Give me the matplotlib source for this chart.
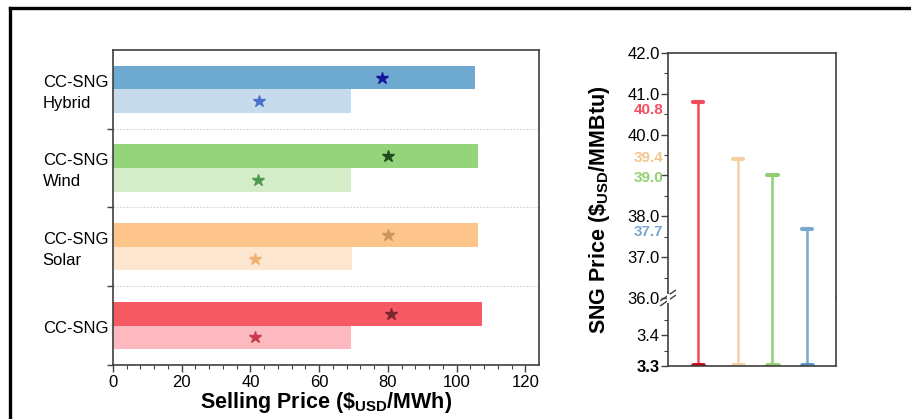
import numpy as np
import matplotlib
matplotlib.use("Agg")
import matplotlib.pyplot as plt
from matplotlib.lines import Line2D

plt.rcParams['font.family'] = ['Liberation Sans', 'DejaVu Sans']
plt.rcParams['mathtext.fontset'] = 'custom'
plt.rcParams['mathtext.rm'] = 'Liberation Sans'
plt.rcParams['mathtext.bf'] = 'Liberation Sans:bold'

# selling price per configuration (bottom to top)
configs = ['CC-SNG', 'CC-SNG\nSolar', 'CC-SNG\nWind', 'CC-SNG\nHybrid']
price_high = [107.5, 106.3, 106.3, 105.4]
price_low = [69.3, 69.6, 69.2, 69.2]
star_high = [80.8, 80.0, 80.0, 78.3]
star_low = [41.4, 41.4, 42.2, 42.6]

# SNG price range per configuration (left to right)
sng_names = ['CC-SNG', 'CC-SNG Solar', 'CC-SNG Wind', 'CC-SNG Hybrid']
sng_pos = [1.0, 2.15, 3.15, 4.15]
sng_top = [40.8, 39.4, 39.0, 37.7]
sng_bottom = 3.3

col_high = ['#f65a62', '#fdc58c', '#96d47b', '#6eaad0']
col_low = ['#fcb9bf', '#fde6d0', '#d4ecc8', '#c6dcec']
col_star_high = ['#7a2630', '#c8955a', '#1d4d1d', '#16169c']
col_star_low = ['#c93a4a', '#f0b070', '#4f9a4f', '#4a6fcc']
col_sng = ['#f04a5a', '#f7cfa6', '#8fcf72', '#78aacc']
col_sng_base = ['#c8001c', '#f7cfa6', '#8fcf72', '#5590c0']
col_sng_text = ['#f25060', '#f5c58e', '#90d070', '#7aa8d0']

spine_col = '#404040'

fig = plt.figure(figsize=(9.12, 4.19), dpi=100)

# outer frame
fig.add_artist(Line2D([0.011, 0.011], [0.0, 0.981], color='black', lw=2.4,
                      transform=fig.transFigure))
fig.add_artist(Line2D([0.011, 1.0], [0.981, 0.981], color='black', lw=2.4,
                      transform=fig.transFigure))

# ---- left panel: horizontal bars ----
ax = fig.add_axes([0.1239, 0.1289, 0.4671, 0.7518])
y = np.arange(len(configs))
h = 0.3
ax.barh(y + h / 2, price_high, height=h, color=col_high, edgecolor='none')
ax.barh(y - h / 2, price_low, height=h, color=col_low, edgecolor='none')
for i in range(len(configs)):
    ax.plot(star_high[i], y[i] + h / 2, marker='*', ms=9, color=col_star_high[i], ls='none')
    ax.plot(star_low[i], y[i] - h / 2, marker='*', ms=9, color=col_star_low[i], ls='none')
for yy in [0.5, 1.5, 2.5]:
    ax.axhline(yy, color='#d0d0d0', lw=0.8, ls=(0, (1.5, 1.5)), zorder=0)

ax.set_xlim(0, 124)
ax.set_ylim(-0.5, 3.5)
ax.set_xticks(np.arange(0, 121, 20))
ax.set_xticks(np.arange(0, 124, 4), minor=True)
ax.set_yticks([-0.5, 0.5, 1.5, 2.5])
ax.set_yticklabels([])
ax.tick_params(axis='x', which='major', length=5, width=1, labelsize=12, color=spine_col, pad=2)
ax.tick_params(axis='x', which='minor', length=3, width=0.8, color=spine_col)
ax.tick_params(axis='y', length=4, width=1, color=spine_col)
for s in ax.spines.values():
    s.set_color(spine_col)
    s.set_linewidth(1.2)
for i, lab in enumerate(configs):
    ax.text(-0.165, y[i] - 0.04, lab, transform=ax.get_yaxis_transform(), ha='left',
            va='center', fontsize=12, linespacing=1.5)
ax.set_xlabel(r'Selling Price (\$$_{\mathbf{USD}}$/MWh)', fontsize=15.5,
              fontweight='bold', labelpad=0)

# ---- right panel: broken-axis range plot ----
ax_top = fig.add_axes([0.7325, 0.2888, 0.1842, 0.5847])
ax_bot = fig.add_axes([0.7325, 0.1265, 0.1842, 0.1623], sharex=ax_top)

for a in (ax_top, ax_bot):
    for i in range(len(sng_pos)):
        a.plot([sng_pos[i], sng_pos[i]], [sng_bottom, sng_top[i]],
               color=col_sng[i], lw=1.8, solid_capstyle='butt')
    for s in a.spines.values():
        s.set_color(spine_col)
        s.set_linewidth(1.2)
    a.tick_params(axis='x', bottom=False, labelbottom=False)
    a.tick_params(axis='y', which='major', length=5, width=1, color=spine_col, labelsize=12, pad=1)
    a.tick_params(axis='y', which='minor', length=3, width=0.8, color=spine_col)

cap_w = 0.15
for i in range(len(sng_pos)):
    ax_top.plot([sng_pos[i] - cap_w, sng_pos[i] + cap_w], [sng_top[i]] * 2,
                color=col_sng[i], lw=3, solid_capstyle='round')
    ax_bot.plot([sng_pos[i] - cap_w, sng_pos[i] + cap_w], [sng_bottom + 0.004] * 2,
                color=col_sng_base[i], lw=3.5, solid_capstyle='round')

ax_top.set_xlim(0.13, 4.99)
ax_top.set_ylim(36, 42)
top_ticks = np.arange(36, 42.1, 1)
ax_top.set_yticks(top_ticks)
ax_top.set_yticks(np.arange(36.5, 42, 1), minor=True)
# the 39.0 tick label sits under the coloured 39.0 value label
ax_top.set_yticklabels(['' if v == 39 else f'{v:.1f}' for v in top_ticks])
ax_top.spines['bottom'].set_visible(False)

ax_bot.set_ylim(3.3, 3.52)
ax_bot.set_yticks([3.3, 3.4])
ax_bot.set_yticks([3.35, 3.45], minor=True)
ax_bot.set_yticklabels(['3.3', '3.4'])
ax_bot.get_yticklabels()[0].set_fontweight('bold')
ax_bot.spines['top'].set_visible(False)

# break marks on the left spine
bx, by = 0.7325, 0.2888
for dy in (-0.006, 0.006):
    fig.add_artist(Line2D([bx - 0.008, bx + 0.008], [by + dy - 0.012, by + dy + 0.012],
                          color=spine_col, lw=1.0, transform=fig.transFigure))
fig.add_artist(Line2D([bx, bx], [by - 0.008, by + 0.008], color='white', lw=2.2,
                      transform=fig.transFigure, zorder=3))

# value labels beside the axis
label_shift = [-0.2, 0.02, -0.05, -0.08]
for i in range(len(sng_top)):
    ax_top.text(-0.03, sng_top[i] + label_shift[i], f'{sng_top[i]:.1f}',
                transform=ax_top.get_yaxis_transform(), ha='right', va='center',
                fontsize=11, fontweight='bold', color=col_sng_text[i])

fig.text(0.657, 0.5, r'SNG Price (\$$_{\mathbf{USD}}$/MMBtu)', rotation=90, ha='center',
         va='center', fontsize=15.5, fontweight='bold')

fig.savefig('out.png', dpi=100)
